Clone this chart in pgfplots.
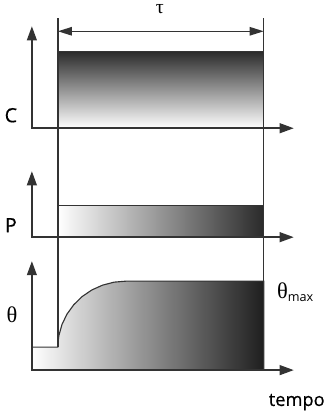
\documentclass[border=0pt]{standalone}
\usepackage{fontspec}
\setmainfont{Open Sans}
\newfontfamily\lab{Open Sans}[FakeBold=0.5]
\newfontfamily\grk{Liberation Serif}
\usepackage{pgfplots}
\pgfplotsset{compat=1.18}
\usetikzlibrary{arrows.meta}
\definecolor{ln}{HTML}{333333}
\definecolor{dk}{HTML}{2a2a2a}
\begin{document}
\begin{tikzpicture}
\begin{axis}[width=8.225cm,height=10.375cm,scale only axis,
  xmin=0,xmax=329,ymin=0,ymax=415,hide axis,clip=false]
% C panel block (vertical gradient)
\addplot[draw=ln, line width=0.8pt, top color=dk, bottom color=white] coordinates {(57,285)(57,362)(263,362)(263,285)} --cycle;
% P panel block (horizontal gradient)
\addplot[draw=ln, line width=0.8pt, left color=white, right color=dk] coordinates {(57,176)(57,208)(263,208)(263,176)} --cycle;
% theta panel area
\addplot[draw=ln, line width=0.8pt, left color=white, right color=black!88] coordinates {(31,43)(31,66)(57,66)(57.3,71.7)(58,77.5)(61.1,88.6)(66.1,99)(72.9,108.4)(81.3,116.6)(91,123.2)(101.7,128)(113.2,131)(125,132)(263,132)(263,43)} --cycle;
% vertical guide lines
\addplot[ln, line width=1pt] coordinates {(57,395)(57,66)};
\addplot[ln, line width=1pt] coordinates {(263,395)(263,43)};
% tau arrow
\addplot[ln, line width=1pt, {Triangle[length=10pt,width=6pt]}-{Triangle[length=10pt,width=6pt]}] coordinates {(57,382)(263,382)};
% axes
\addplot[ln, line width=1.1pt, {Triangle[length=10pt,width=7pt]}-{Triangle[length=10pt,width=7pt]}] coordinates {(31,387)(31,285)(293,285)};
\addplot[ln, line width=1.1pt, {Triangle[length=10pt,width=7pt]}-{Triangle[length=10pt,width=7pt]}] coordinates {(31,242)(31,176)(293,176)};
\addplot[ln, line width=1.1pt, {Triangle[length=10pt,width=7pt]}-{Triangle[length=10pt,width=7pt]}] coordinates {(31,152)(31,43)(293,43)};
% labels
\node[font=\fontsize{14}{16}\selectfont\lab] at (axis cs:10,298) {C};
\node[font=\fontsize{14}{16}\selectfont\lab] at (axis cs:10,188) {P};
\node[font=\fontsize{16}{18}\selectfont\grk] at (axis cs:11,98) {θ};
\node[anchor=west, inner sep=0pt] at (axis cs:276,121) {{\fontsize{16}{18}\selectfont\grk θ}\raisebox{-0.5ex}{\fontsize{9}{10}\selectfont max}};
\node[font=\fontsize{13}{15}\selectfont\lab] at (axis cs:296,11) {tempo};
\node[font=\fontsize{14}{16}\selectfont\grk] at (axis cs:159,404) {τ};
\end{axis}
\end{tikzpicture}
\end{document}
